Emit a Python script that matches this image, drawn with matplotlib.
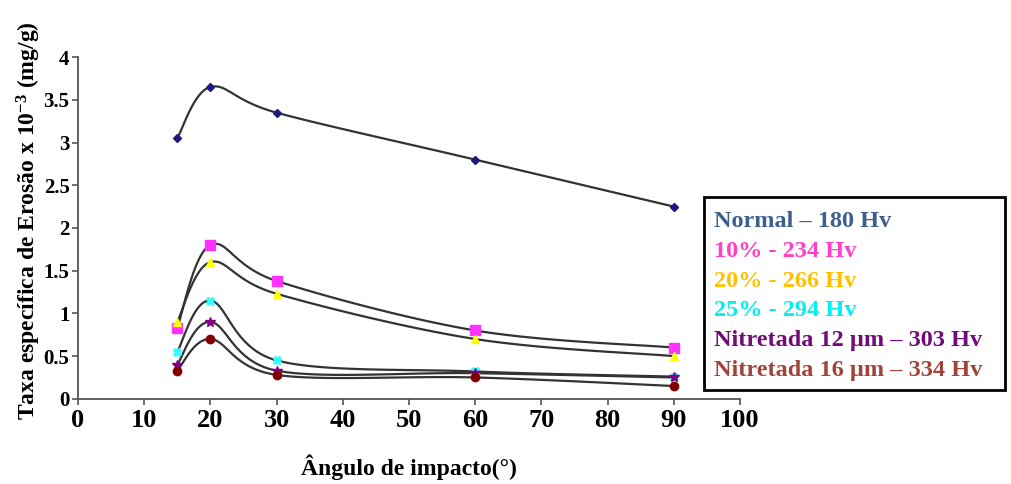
import numpy as np
import matplotlib
matplotlib.use("Agg")
from matplotlib import pyplot as plt

plt.rcParams['mathtext.fontset'] = 'custom'
plt.rcParams['mathtext.rm'] = 'Liberation Serif:bold'
plt.rcParams['mathtext.default'] = 'rm'

# dados
angulos = [15, 20, 30, 60, 90]
normal = [3.05, 3.65, 3.35, 2.80, 2.25]
n10 = [0.83, 1.80, 1.38, 0.80, 0.60]
n20 = [0.90, 1.60, 1.23, 0.70, 0.50]
n25 = [0.55, 1.15, 0.45, 0.32, 0.26]
nit12 = [0.40, 0.90, 0.33, 0.30, 0.25]
nit16 = [0.33, 0.70, 0.28, 0.25, 0.15]

rotulos = ['Normal – 180 Hv', '10% - 234 Hv', '20% - 266 Hv', '25% - 294 Hv',
           'Nitretada 12 µm – 303 Hv', 'Nitretada 16 µm – 334 Hv']
cores_texto = ['#3d5f8e', '#ff3fc8', '#ffc000', '#00f0f0', '#720a78', '#a0443a']
cores_marc = ['#1a1a80', '#ff33ff', '#ffff00', '#33ffff', '#800080', '#800000']
marcadores = ['D', 's', '^', 'X', '*', 'o']
tam = [4, 7, 6, 6, 7, 6]


def suaviza(x, y, n=30):
    # curva tipo Excel (Catmull-Rom) so para o traçado
    x = np.asarray(x, float); y = np.asarray(y, float)
    px = np.concatenate([[x[0]], x, [x[-1]]])
    py = np.concatenate([[y[0]], y, [y[-1]]])
    xs, ys = [], []
    for i in range(1, len(px) - 2):
        t = np.linspace(0, 1, n)
        p0, p1, p2, p3 = [np.array([px[j], py[j]]) for j in range(i - 1, i + 3)]
        c1 = p1 + (p2 - p0) / 6
        c2 = p2 - (p3 - p1) / 6
        pts = ((1 - t) ** 3)[:, None] * p1 + (3 * (1 - t) ** 2 * t)[:, None] * c1 \
            + (3 * (1 - t) * t ** 2)[:, None] * c2 + (t ** 3)[:, None] * p2
        xs.extend(pts[:, 0]); ys.extend(pts[:, 1])
    return xs, ys


fig = plt.figure(figsize=(10.11, 4.84), dpi=100)
ax = fig.add_axes([0.077, 0.176, 0.655, 0.706])

series = [normal, n10, n20, n25, nit12, nit16]
for s, cm, mk, ms in zip(series, cores_marc, marcadores, tam):
    xs, ys = suaviza(angulos, s)
    ax.plot(xs, ys, color='#333333', lw=1.6, zorder=2)
    ax.plot(angulos, s, ls='none', marker=mk, color=cm, ms=ms, mec=cm, zorder=3)

ax.set_xlim(0, 100)
ax.set_ylim(0, 4)
ax.set_xticks(range(0, 101, 10))
ax.set_yticks(np.arange(0, 4.01, 0.5))
ax.set_yticklabels(['0', '0.5', '1', '1.5', '2', '2.5', '3', '3.5', '4'])
for sp in ['top', 'right']:
    ax.spines[sp].set_visible(False)
for sp in ['left', 'bottom']:
    ax.spines[sp].set_color('#555555')
    ax.spines[sp].set_linewidth(1.3)
ax.tick_params(axis='both', color='#555555', length=4, width=1.2)
ax.tick_params(axis='y', pad=2)
for lb in ax.get_xticklabels():
    lb.set_fontfamily('Liberation Serif'); lb.set_fontweight('bold'); lb.set_fontsize(19)
for lb in ax.get_yticklabels():
    lb.set_fontfamily('Liberation Serif'); lb.set_fontweight('bold'); lb.set_fontsize(15)

ax.set_xlabel('Ângulo de impacto(°)', fontfamily='Liberation Serif', fontweight='bold',
              fontsize=17, labelpad=16)
ax.set_ylabel('Taxa específica de Erosão x 10$^{-3}$ (mg/g)', fontfamily='Liberation Serif',
              fontweight='bold', fontsize=17)
ax.yaxis.set_label_coords(-0.053, 0.52)

# caixa da legenda
caixa = plt.Rectangle((0.696, 0.195), 0.298, 0.398, transform=fig.transFigure,
                      fill=False, lw=2, ec='black')
fig.add_artist(caixa)
for i, (r, c) in enumerate(zip(rotulos, cores_texto)):
    fig.text(0.706, 0.542 - i * 0.0615, r, color=c, fontfamily='Liberation Serif',
             fontweight='bold', fontsize=17.5, va='center')

fig.savefig('out.png', dpi=100)
